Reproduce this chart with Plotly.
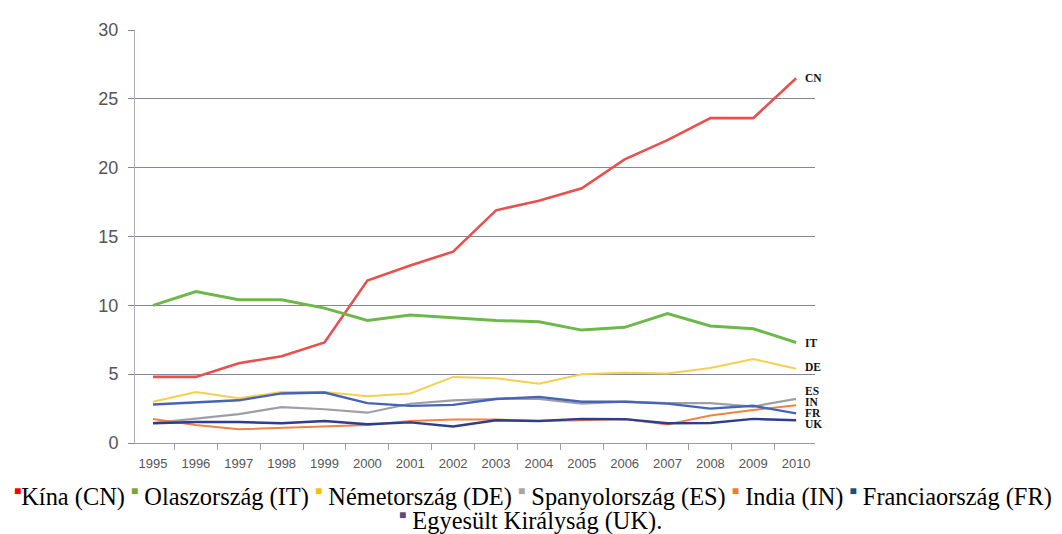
import plotly.graph_objects as go

years = [str(y) for y in range(1995, 2011)]

cn = [4.8, 4.8, 5.8, 6.3, 7.3, 11.8, 12.9, 13.9, 16.9, 17.6, 18.5, 20.6, 22.0, 23.6, 23.6, 26.5]
it = [10.0, 11.0, 10.4, 10.4, 9.8, 8.9, 9.3, 9.1, 8.9, 8.8, 8.2, 8.4, 9.4, 8.5, 8.3, 7.3]
de = [3.0, 3.7, 3.25, 3.7, 3.7, 3.4, 3.6, 4.8, 4.7, 4.3, 5.0, 5.1, 5.05, 5.45, 6.1, 5.4]
es = [1.45, 1.75, 2.1, 2.6, 2.45, 2.2, 2.85, 3.1, 3.2, 3.2, 2.85, 3.0, 2.9, 2.9, 2.65, 3.2]
india = [1.75, 1.3, 1.0, 1.1, 1.2, 1.3, 1.6, 1.7, 1.7, 1.6, 1.65, 1.75, 1.35, 2.0, 2.4, 2.75]
fr = [2.8, 2.93, 3.1, 3.6, 3.67, 2.9, 2.7, 2.77, 3.2, 3.35, 3.0, 3.0, 2.86, 2.5, 2.7, 2.15]
uk = [1.43, 1.52, 1.52, 1.43, 1.6, 1.36, 1.5, 1.2, 1.65, 1.6, 1.75, 1.73, 1.43, 1.45, 1.75, 1.65]

series = [
    ("CN", cn, "#e8504e", 2.6),
    ("IT", it, "#6cb94a", 3.0),
    ("DE", de, "#f5cf50", 2.0),
    ("ES", es, "#9e9ea6", 2.2),
    ("IN", india, "#f08244", 2.0),
    ("FR", fr, "#4563b8", 2.4),
    ("UK", uk, "#2e3d8c", 2.4),
]

end_labels = ["CN", "IT", "DE", "ES", "IN", "FR", "UK"]
end_label_y = [26.5, 7.3, 5.5, 3.8, 3.0, 2.2, 1.4]

legend_names = ["Kína (CN)", "Olaszország (IT)", "Németország (DE)", "Spanyolország (ES)",
                "India (IN)", "Franciaország (FR)", "Egyesült Királyság (UK)."]
legend_colors = ["#ff0000", "#77a33a", "#ffc000", "#a5a5a5", "#ed7d31", "#1f4e79", "#604a7b"]

y_ticks = [0, 5, 10, 15, 20, 25, 30]

SERIF = "Liberation Serif"

fig = go.Figure()
for name, vals, color, w in series:
    fig.add_trace(go.Scatter(x=years, y=vals, mode="lines", name=name,
                             line=dict(color=color, width=w), showlegend=False))

for lab, yv in zip(end_labels, end_label_y):
    fig.add_annotation(x=0.982, xref="paper", y=yv, yref="y", text="<b>" + lab + "</b>",
                       showarrow=False, xanchor="left", yanchor="middle",
                       font=dict(family=SERIF, size=11.5, color="#111"))

def item(c, n, first=False):
    sq = '<sup><span style="color:%s;font-size:12px">■</span></sup>' % c
    return sq + ("" if first else " ") + n

line1 = " ".join(item(c, n, i == 0) for i, (c, n) in enumerate(zip(legend_colors[:6], legend_names[:6])))
line2 = item(legend_colors[6], legend_names[6])
for txt, xs, ys in [(line1, 0.585, -54), (line2, 0.582, -78)]:
    fig.add_annotation(x=xs, xref="paper", y=0, yref="paper", yshift=ys,
                       text=txt, showarrow=False, xanchor="center", yanchor="middle",
                       font=dict(family=SERIF, size=24.4, color="#000"))

fig.update_layout(
    width=1054, height=526,
    margin=dict(l=127, r=247, t=16, b=91),
    paper_bgcolor="white", plot_bgcolor="white",
    font=dict(family=SERIF),
    xaxis=dict(type="category", range=[-0.42, 15.44], showgrid=False, showline=True,
               linecolor="#9a9aa8", ticks="outside", tickson="boundaries", ticklen=6,
               tickcolor="#9a9aa8", ticklabelstandoff=8,
               tickfont=dict(family="Liberation Sans", size=13, color="#555"),
               zeroline=False),
    yaxis=dict(range=[0, 30], tickvals=y_ticks, showgrid=True, gridcolor="#85859a", gridwidth=1,
               showline=True, linecolor="#b0b0bc", ticks="outside", ticklen=6, tickcolor="#85859a",
               ticklabelstandoff=6,
               tickfont=dict(family="Liberation Sans", size=18, color="#555"),
               zeroline=False),
)

fig.write_html("out.html")
